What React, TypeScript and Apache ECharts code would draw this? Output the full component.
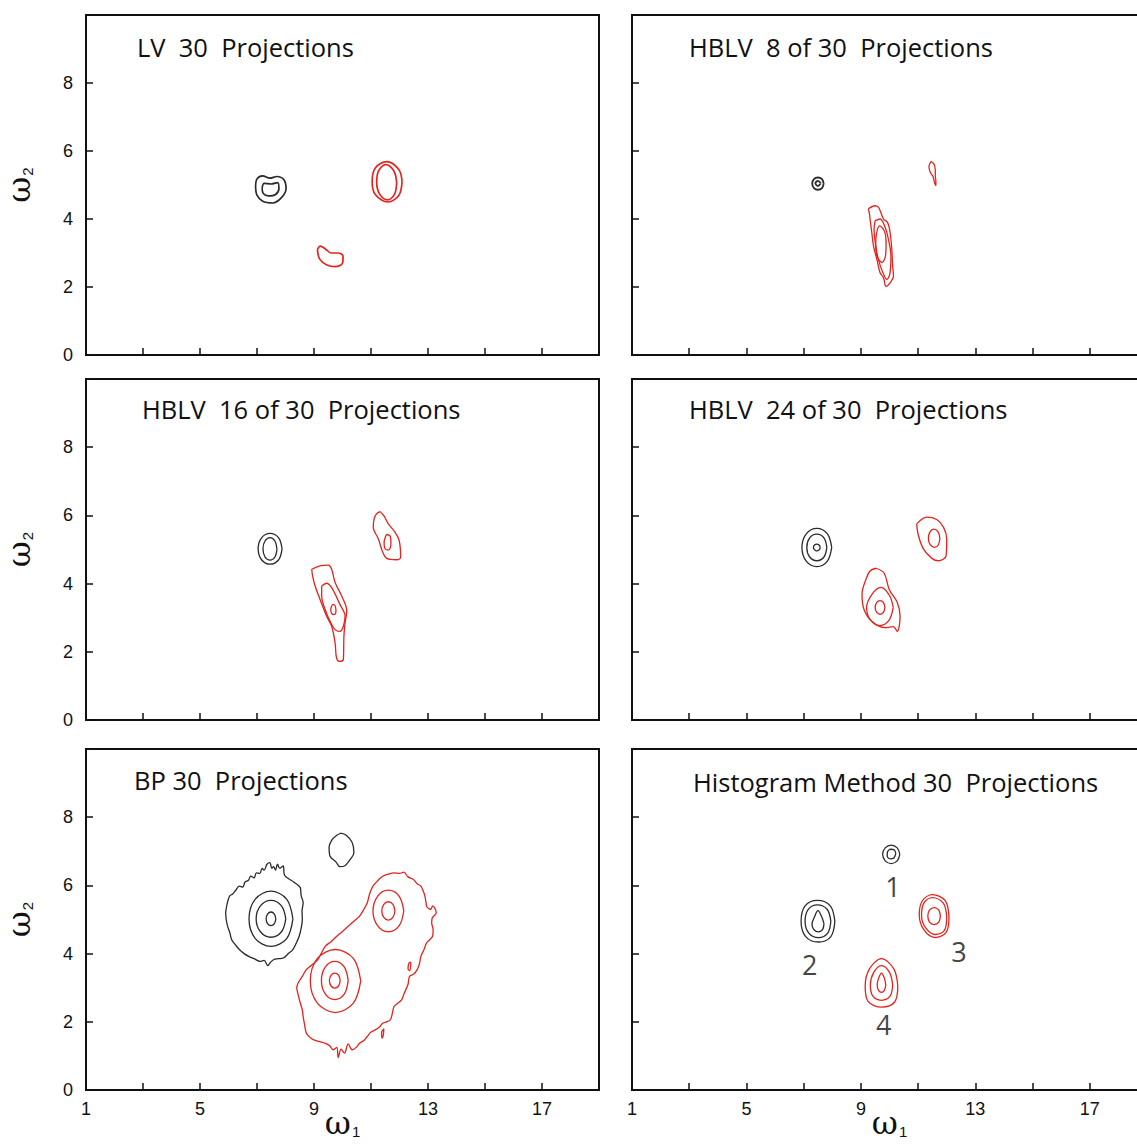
import React, { useEffect, useRef } from "react";
import * as echarts from "echarts";

// ---------- tick labels / titles ----------
const xTickLabels = [1, 5, 9, 13, 17];
const yTickLabels = [0, 2, 4, 6, 8];
const panelTitles = [
  "LV  30  Projections",
  "HBLV  8 of 30  Projections",
  "HBLV  16 of 30  Projections",
  "HBLV  24 of 30  Projections",
  "BP 30  Projections",
  "Histogram Method 30  Projections",
];
const peakNames = ["1", "2", "3", "4"];
const peakLabelPos = [
  [10.12, 5.98],
  [7.21, 3.68],
  [12.43, 4.07],
  [9.8, 1.91],
];

// ---------- contours (ω1, ω2) ----------
// Panel 1: LV 30
const lvBlackOuter = [[6.95,4.95],[7.0,5.18],[7.2,5.27],[7.45,5.2],[7.7,5.25],[7.95,5.15],[8.02,4.9],[7.85,4.62],[7.55,4.47],[7.2,4.52],[7.0,4.7],[6.95,4.95]];
const lvBlackInner = [[7.18,4.9],[7.25,5.05],[7.5,5.03],[7.72,5.07],[7.77,4.9],[7.65,4.72],[7.4,4.68],[7.22,4.75],[7.18,4.9]];
const lvRedOuter = [[12.09,5.1],[11.98,5.45],[11.55,5.69],[11.15,5.5],[11.04,5.1],[11.15,4.72],[11.6,4.5],[11.98,4.7],[12.09,5.1]];
const lvRedInner = [[11.9,5.08],[11.8,5.42],[11.52,5.6],[11.27,5.42],[11.2,5.08],[11.3,4.74],[11.58,4.56],[11.83,4.74],[11.9,5.08]];
const lvRedBean = [[9.12,3.1],[9.22,3.2],[9.4,3.12],[9.6,3.0],[9.85,3.0],[10.02,2.9],[10.0,2.7],[9.75,2.6],[9.45,2.65],[9.2,2.82],[9.12,3.1]];

// Panel 2: HBLV 8
const h8BlackOuter = [[7.7,5.04],[7.64,5.17],[7.5,5.22],[7.36,5.17],[7.3,5.04],[7.36,4.91],[7.5,4.86],[7.64,4.91],[7.7,5.04]];
const h8BlackInner = [[7.6,5.05],[7.5,5.12],[7.41,5.05],[7.5,4.97],[7.6,5.05]];
const h8RedDrop = [[11.45,5.69],[11.55,5.62],[11.6,5.45],[11.6,5.3],[11.62,5.1],[11.62,4.98],[11.58,5.05],[11.52,5.25],[11.42,5.38],[11.38,5.55],[11.45,5.69]];
const h8RedOuter = [[9.26,4.3],[9.5,4.39],[9.61,4.35],[9.67,4.25],[9.79,4.0],[9.93,3.9],[10.02,3.61],[10.08,3.11],[10.11,2.62],[10.14,2.32],[10.02,2.12],[9.88,2.02],[9.79,2.27],[9.67,2.42],[9.56,2.81],[9.44,3.21],[9.38,3.61],[9.32,4.0],[9.3,4.15],[9.26,4.3]];
const h8RedMid = [[9.5,3.95],[9.67,4.0],[9.85,3.75],[9.96,3.41],[10.05,2.91],[10.02,2.42],[9.91,2.22],[9.77,2.42],[9.61,2.81],[9.5,3.31],[9.46,3.7],[9.5,3.95]];
const h8RedInner = [[9.88,3.26],[9.84,3.6],[9.66,3.8],[9.54,3.55],[9.52,3.26],[9.56,2.92],[9.74,2.72],[9.86,2.92],[9.88,3.26]];

// Panel 3: HBLV 16
const h16BlackOuter = [[7.88,5.02],[7.76,5.34],[7.46,5.47],[7.16,5.34],[7.04,5.02],[7.16,4.7],[7.46,4.57],[7.76,4.7],[7.88,5.02]];
const h16BlackInner = [[7.7,5.02],[7.63,5.25],[7.46,5.35],[7.28,5.25],[7.21,5.02],[7.28,4.78],[7.46,4.69],[7.63,4.78],[7.7,5.02]];
const h16RedRightOuter = [[11.32,6.11],[11.46,5.98],[11.61,5.75],[11.84,5.51],[11.99,5.26],[12.04,4.77],[11.9,4.7],[11.55,4.74],[11.41,4.92],[11.26,5.31],[11.08,5.65],[11.11,5.9],[11.2,6.05],[11.32,6.11]];
const h16RedRightInner = [[11.7,5.19],[11.68,5.38],[11.56,5.44],[11.48,5.3],[11.46,5.22],[11.48,5.04],[11.6,4.98],[11.68,5.06],[11.7,5.19]];
const h16RedLowOuter = [[8.92,4.42],[9.21,4.52],[9.5,4.54],[9.62,4.42],[9.74,4.03],[9.97,3.64],[10.15,3.2],[10.09,2.85],[10.05,2.46],[10.03,1.77],[9.89,1.72],[9.79,1.82],[9.74,2.26],[9.62,2.75],[9.44,3.05],[9.21,3.54],[9.04,3.93],[8.95,4.23],[8.92,4.42]];
const h16RedLowMid = [[9.27,3.93],[9.44,4.01],[9.62,3.88],[9.91,3.39],[10.09,3.05],[10.03,2.75],[9.91,2.6],[9.74,2.65],[9.56,2.9],[9.39,3.24],[9.27,3.64],[9.27,3.93]];
const h16RedLowInner = [[9.77,3.22],[9.74,3.35],[9.66,3.39],[9.6,3.3],[9.59,3.24],[9.62,3.12],[9.7,3.09],[9.76,3.13],[9.77,3.22]];

// Panel 4: HBLV 24
const h24BlackOuter = [[7.98,5.06],[7.83,5.46],[7.46,5.62],[7.09,5.46],[6.94,5.06],[7.09,4.66],[7.46,4.5],[7.83,4.66],[7.98,5.06]];
const h24BlackMid = [[7.81,5.06],[7.71,5.34],[7.46,5.45],[7.21,5.34],[7.11,5.06],[7.21,4.78],[7.46,4.67],[7.71,4.78],[7.81,5.06]];
const h24BlackInner = [[7.58,5.06],[7.54,5.13],[7.46,5.16],[7.38,5.13],[7.34,5.06],[7.38,4.99],[7.46,4.96],[7.54,4.99],[7.58,5.06]];
const h24RedRightOuter = [[10.95,5.75],[11.3,5.95],[11.65,5.88],[11.89,5.65],[12.0,5.31],[11.98,4.82],[11.71,4.67],[11.48,4.74],[11.19,5.01],[11.01,5.41],[10.95,5.75]];
const h24RedRightInner = [[11.76,5.33],[11.7,5.52],[11.54,5.6],[11.41,5.51],[11.36,5.33],[11.42,5.14],[11.58,5.06],[11.71,5.14],[11.76,5.33]];
const h24RedLowOuter = [[9.53,4.45],[9.81,4.31],[9.99,3.83],[10.27,3.45],[10.37,3.04],[10.27,2.6],[10.13,2.74],[9.85,2.71],[9.39,2.89],[9.11,3.24],[9.04,3.69],[9.18,4.13],[9.32,4.37],[9.53,4.45]];
const h24RedLowMid = [[10.13,3.3],[10.0,3.65],[9.7,3.89],[9.38,3.68],[9.2,3.3],[9.32,2.95],[9.66,2.77],[9.98,2.92],[10.13,3.3]];
const h24RedLowInner = [[9.84,3.3],[9.79,3.44],[9.67,3.5],[9.55,3.44],[9.5,3.3],[9.55,3.16],[9.67,3.1],[9.79,3.16],[9.84,3.3]];

// Panel 5: BP 30
const bpBlackOuter = [[5.9,5.21],[5.95,5.45],[6.04,5.69],[6.15,5.75],[6.25,5.85],[6.38,5.98],[6.5,5.95],[6.58,6.1],[6.7,6.15],[6.78,6.27],[6.9,6.22],[6.98,6.37],[7.1,6.35],[7.18,6.5],[7.25,6.45],[7.35,6.62],[7.45,6.67],[7.52,6.5],[7.58,6.55],[7.65,6.45],[7.72,6.62],[7.8,6.5],[7.92,6.57],[7.95,6.35],[7.99,6.27],[8.1,6.2],[8.2,6.15],[8.32,6.08],[8.45,6.0],[8.52,5.93],[8.55,5.7],[8.62,5.49],[8.58,5.25],[8.59,5.0],[8.55,4.75],[8.48,4.51],[8.4,4.35],[8.26,4.12],[8.1,4.0],[7.92,3.87],[7.75,3.85],[7.58,3.82],[7.45,3.72],[7.38,3.65],[7.25,3.8],[7.11,3.77],[6.9,3.85],[6.71,3.92],[6.55,4.0],[6.38,4.12],[6.25,4.25],[6.11,4.41],[6.05,4.6],[5.97,4.8],[5.92,5.0],[5.9,5.21]];
const bpBlackRing1 = [[8.26,5.02],[8.04,5.6],[7.49,5.83],[6.94,5.6],[6.72,5.02],[6.94,4.44],[7.49,4.21],[8.04,4.44],[8.26,5.02]];
const bpBlackRing2 = [[8.01,5.02],[7.86,5.4],[7.49,5.56],[7.12,5.4],[6.97,5.02],[7.12,4.64],[7.49,4.48],[7.86,4.64],[8.01,5.02]];
const bpBlackRing3 = [[7.66,5.02],[7.61,5.16],[7.49,5.22],[7.37,5.16],[7.32,5.02],[7.37,4.88],[7.49,4.82],[7.61,4.88],[7.66,5.02]];
const bpBlackTop = [[9.93,7.53],[10.13,7.47],[10.34,7.26],[10.4,6.96],[10.27,6.76],[10.07,6.57],[9.91,6.55],[9.77,6.69],[9.56,6.86],[9.53,7.11],[9.64,7.35],[9.8,7.47],[9.93,7.53]];
const bpRedOuter = [[8.39,2.99],[8.45,3.15],[8.59,3.33],[8.73,3.53],[8.9,3.65],[9.13,3.82],[9.25,4.0],[9.4,4.22],[9.6,4.35],[9.8,4.51],[10.0,4.65],[10.2,4.8],[10.4,4.95],[10.6,5.1],[10.75,5.3],[10.87,5.49],[10.95,5.75],[11.07,5.98],[11.25,6.15],[11.41,6.27],[11.6,6.33],[11.81,6.37],[12.0,6.35],[12.15,6.39],[12.3,6.25],[12.48,6.18],[12.62,6.05],[12.75,5.98],[12.85,5.8],[12.89,5.69],[12.93,5.5],[12.95,5.39],[13.1,5.3],[13.16,5.4],[13.29,5.2],[13.15,5.05],[13.13,4.9],[13.18,4.7],[13.16,4.51],[13.05,4.4],[12.95,4.31],[12.85,4.1],[12.75,3.92],[12.7,3.7],[12.62,3.53],[12.5,3.4],[12.35,3.33],[12.3,3.1],[12.22,2.94],[12.15,2.8],[12.08,2.65],[11.95,2.55],[11.81,2.45],[11.75,2.25],[11.68,2.06],[11.55,2.0],[11.41,1.96],[11.3,1.85],[11.14,1.76],[11.0,1.7],[10.87,1.57],[10.75,1.45],[10.6,1.37],[10.48,1.25],[10.34,1.18],[10.2,1.35],[10.07,1.08],[9.95,1.2],[9.85,0.95],[9.8,1.25],[9.67,1.18],[9.55,1.3],[9.4,1.37],[9.2,1.42],[8.99,1.47],[8.85,1.55],[8.73,1.67],[8.66,1.96],[8.62,2.15],[8.59,2.35],[8.52,2.55],[8.46,2.74],[8.39,2.99]];
const bpRedLowOuter = [[10.64,3.2],[10.38,3.86],[9.75,4.12],[9.12,3.86],[8.87,3.2],[9.12,2.55],[9.75,2.27],[10.38,2.55],[10.64,3.2]];
const bpRedLowMid = [[10.2,3.21],[10.06,3.61],[9.73,3.77],[9.4,3.61],[9.26,3.21],[9.4,2.81],[9.73,2.65],[10.06,2.81],[10.2,3.21]];
const bpRedLowInner = [[9.92,3.21],[9.86,3.37],[9.73,3.43],[9.6,3.37],[9.54,3.21],[9.6,3.05],[9.73,2.99],[9.86,3.05],[9.92,3.21]];
const bpRedHighOuter = [[12.15,5.25],[11.99,5.68],[11.61,5.86],[11.23,5.68],[11.07,5.25],[11.23,4.82],[11.61,4.64],[11.99,4.82],[12.15,5.25]];
const bpRedHighInner = [[11.84,5.25],[11.77,5.44],[11.61,5.52],[11.45,5.44],[11.38,5.25],[11.45,5.06],[11.61,4.98],[11.77,5.06],[11.84,5.25]];
const bpRedIsleA = [[11.45,1.8],[11.43,1.6],[11.39,1.52],[11.37,1.68],[11.45,1.8]];
const bpRedIsleB = [[12.4,3.75],[12.36,3.5],[12.3,3.55],[12.33,3.72],[12.4,3.75]];

// Panel 6: Histogram method
const hmBlack1Outer = [[10.36,6.91],[10.27,7.1],[10.06,7.18],[9.85,7.1],[9.76,6.91],[9.85,6.72],[10.06,6.64],[10.27,6.72],[10.36,6.91]];
const hmBlack1Inner = [[10.22,6.93],[10.17,7.04],[10.04,7.06],[9.93,6.98],[9.92,6.86],[10.02,6.78],[10.15,6.8],[10.22,6.93]];
const hmBlack2Outer = [[8.09,4.95],[7.93,5.4],[7.48,5.56],[7.05,5.4],[6.91,4.95],[7.07,4.5],[7.52,4.34],[7.95,4.5],[8.09,4.95]];
const hmBlack2Mid = [[7.95,4.95],[7.82,5.3],[7.48,5.43],[7.16,5.3],[7.05,4.95],[7.18,4.6],[7.52,4.47],[7.84,4.6],[7.95,4.95]];
const hmBlack2Inner = [[7.71,4.88],[7.62,5.1],[7.5,5.26],[7.38,5.08],[7.29,4.85],[7.36,4.7],[7.52,4.64],[7.66,4.7],[7.71,4.88]];
const hmRed3Outer = [[12.08,5.05],[11.95,5.55],[11.5,5.73],[11.15,5.55],[11.04,5.15],[11.2,4.7],[11.6,4.47],[11.98,4.62],[12.08,5.05]];
const hmRed3Mid = [[12.0,5.08],[11.88,5.48],[11.5,5.64],[11.2,5.48],[11.12,5.12],[11.26,4.76],[11.6,4.56],[11.92,4.68],[12.0,5.08]];
const hmRed3Inner = [[11.78,5.1],[11.72,5.28],[11.56,5.35],[11.4,5.28],[11.34,5.1],[11.4,4.92],[11.56,4.85],[11.72,4.92],[11.78,5.1]];
const hmRed4Outer = [[10.29,3.05],[10.15,3.55],[9.72,3.85],[9.3,3.55],[9.15,3.05],[9.25,2.6],[9.72,2.43],[10.18,2.58],[10.29,3.05]];
const hmRed4Mid = [[10.11,3.08],[10.0,3.45],[9.72,3.65],[9.45,3.45],[9.33,3.08],[9.42,2.75],[9.72,2.63],[10.02,2.75],[10.11,3.08]];
const hmRed4Inner = [[9.87,3.08],[9.82,3.28],[9.72,3.43],[9.62,3.28],[9.57,3.08],[9.62,2.92],[9.72,2.86],[9.82,2.92],[9.87,3.08]];

const BLACK = "#2a2a2a";
const RED = "#e3231c";

const panelContours: Array<Array<[number[][], string]>> = [
  [[lvBlackOuter, BLACK], [lvBlackInner, BLACK], [lvRedOuter, RED], [lvRedInner, RED], [lvRedBean, RED]],
  [[h8BlackOuter, BLACK], [h8BlackInner, BLACK], [h8RedDrop, RED], [h8RedOuter, RED], [h8RedMid, RED], [h8RedInner, RED]],
  [[h16BlackOuter, BLACK], [h16BlackInner, BLACK], [h16RedRightOuter, RED], [h16RedRightInner, RED], [h16RedLowOuter, RED], [h16RedLowMid, RED], [h16RedLowInner, RED]],
  [[h24BlackOuter, BLACK], [h24BlackMid, BLACK], [h24BlackInner, BLACK], [h24RedRightOuter, RED], [h24RedRightInner, RED], [h24RedLowOuter, RED], [h24RedLowMid, RED], [h24RedLowInner, RED]],
  [[bpBlackOuter, BLACK], [bpBlackRing1, BLACK], [bpBlackRing2, BLACK], [bpBlackRing3, BLACK], [bpBlackTop, BLACK], [bpRedOuter, RED], [bpRedLowOuter, RED], [bpRedLowMid, RED], [bpRedLowInner, RED], [bpRedHighOuter, RED], [bpRedHighInner, RED], [bpRedIsleA, RED], [bpRedIsleB, RED]],
  [[hmBlack1Outer, BLACK], [hmBlack1Inner, BLACK], [hmBlack2Outer, BLACK], [hmBlack2Mid, BLACK], [hmBlack2Inner, BLACK], [hmRed3Outer, RED], [hmRed3Mid, RED], [hmRed3Inner, RED], [hmRed4Outer, RED], [hmRed4Mid, RED], [hmRed4Inner, RED]],
];

// ---------- layout ----------
const colLeft = [86, 632];
const colWidth = [513, 515];
const rowTop = [15, 379, 749];
const rowHeight = [340, 341, 341];
const titlePos = [
  [137, 47],
  [689, 47],
  [142, 409],
  [689, 409],
  [134, 780],
  [693, 782],
];

export default function App() {
  const ref = useRef<HTMLDivElement>(null);
  useEffect(() => {
    if (!ref.current) return;
    const chart = echarts.init(ref.current, null, { renderer: "svg" });
    const grids: any[] = [];
    const xAxes: any[] = [];
    const yAxes: any[] = [];
    const series: any[] = [];
    const tickFont = { fontFamily: "Liberation Sans", fontSize: 18, color: "#111" };
    const nameRich = {
      w: { fontFamily: "DejaVu Serif", fontSize: 32, color: "#111", lineHeight: 32 },
      s: { fontFamily: "Liberation Sans", fontSize: 15, color: "#111", verticalAlign: "bottom", lineHeight: 32, padding: [12, 0, 0, 1] },
    };
    for (let i = 0; i < 6; i++) {
      const col = i % 2;
      const row = Math.floor(i / 2);
      grids.push({
        left: colLeft[col],
        top: rowTop[row],
        width: colWidth[col],
        height: rowHeight[row],
        show: true,
        borderColor: "#111",
        borderWidth: 2,
        containLabel: false,
        outerBoundsMode: "none",
      });
      const bottomRow = row === 2;
      xAxes.push({
        type: "value",
        gridIndex: i,
        min: 1,
        max: 19,
        interval: 2,
        axisLine: { show: true, onZero: false, lineStyle: { color: "#111", width: 2 } },
        axisTick: { show: true, inside: true, length: 7, lineStyle: { color: "#111", width: 1.5 } },
        axisLabel: {
          show: bottomRow,
          margin: 10,
          ...tickFont,
          formatter: (v: number) => (xTickLabels.includes(v) ? String(v) : ""),
        },
        splitLine: { show: false },
        name: bottomRow ? "{w|ω}{s|1}" : "",
        nameLocation: "middle",
        nameGap: 17,
        nameMoveOverlap: false,
        nameTextStyle: { rich: nameRich },
      });
      yAxes.push({
        type: "value",
        gridIndex: i,
        min: 0,
        max: 10,
        interval: 2,
        axisLine: { show: true, onZero: false, lineStyle: { color: "#111", width: 2 } },
        axisTick: { show: true, inside: true, length: 7, lineStyle: { color: "#111", width: 1.5 } },
        axisLabel: {
          show: col === 0,
          margin: 13,
          ...tickFont,
          formatter: (v: number) => (yTickLabels.includes(v) ? String(v) : ""),
        },
        splitLine: { show: false },
        name: col === 0 ? "{w|ω}{s|2}" : "",
        nameLocation: "middle",
        nameGap: 51,
        nameMoveOverlap: false,
        nameTextStyle: { rich: nameRich },
      });
      panelContours[i].forEach(([pts, color]) => {
        series.push({
          type: "line",
          xAxisIndex: i,
          yAxisIndex: i,
          data: pts,
          showSymbol: false,
          symbol: "none",
          smooth: 0.35,
          silent: true,
          lineStyle: { color, width: i === 0 ? 1.7 : i === 1 && color === BLACK ? 1.8 : 1.3 },
        });
      });
    }
    series.push({
      type: "scatter",
      xAxisIndex: 5,
      yAxisIndex: 5,
      symbolSize: 0,
      silent: true,
      data: peakLabelPos.map((p, k) => ({ value: p, name: peakNames[k] })),
      label: {
        show: true,
        position: "inside",
        formatter: (p: any) => p.name,
        fontFamily: "Open Sans",
        fontSize: 27,
        color: "#111",
      },
    });
    const graphic = panelTitles.map((t, k) => ({
      type: "text",
      x: titlePos[k][0],
      y: titlePos[k][1],
      style: {
        text: t,
        font: '25.5px "Open Sans"',
        fill: "#111",
        verticalAlign: "middle",
      },
    }));
    chart.setOption({
      animation: false,
      backgroundColor: "#fff",
      grid: grids,
      xAxis: xAxes,
      yAxis: yAxes,
      series,
      graphic,
    });
    return () => chart.dispose();
  }, []);
  return (
    <div
      ref={ref}
      style={{ position: "absolute", left: 0, top: 0, width: 1137, height: 1148 }}
    />
  );
}
